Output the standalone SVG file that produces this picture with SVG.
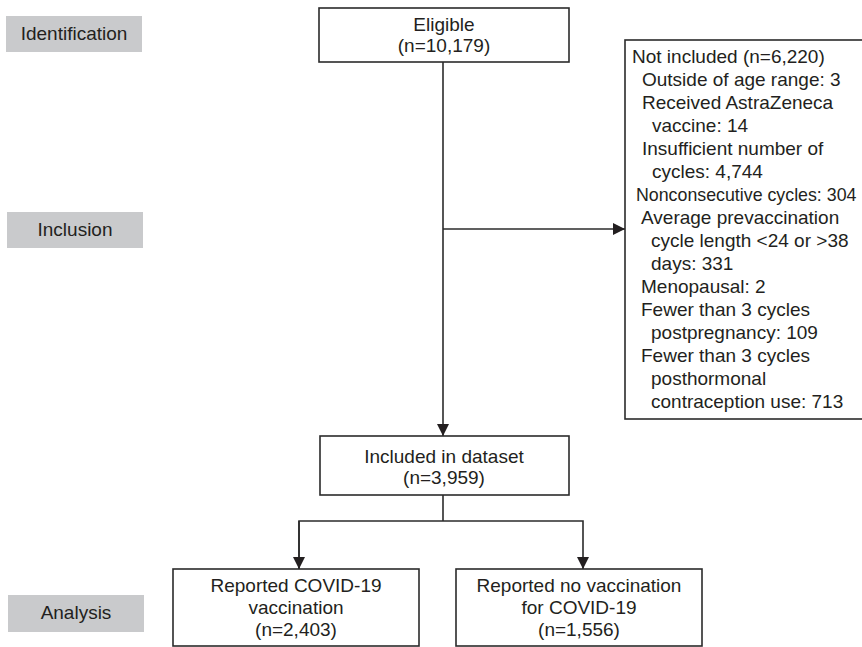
<svg xmlns="http://www.w3.org/2000/svg" width="862" height="647" viewBox="0 0 862 647">
<defs>
<style>
text{font-family:"Liberation Sans",Arial,sans-serif;font-size:19px;fill:#231f20}
.c{text-anchor:middle}
.box{fill:#fff;stroke:#2b2b2b;stroke-width:1.6}
.stage{fill:#c9cacc}
.ln{fill:none;stroke:#2b2b2b;stroke-width:1.6}
</style>
<marker id="ah" viewBox="0 0 12 12" refX="12" refY="6" markerWidth="12" markerHeight="12" markerUnits="userSpaceOnUse" orient="auto">
<path d="M0,0 L12,6 L0,12 Z" fill="#231f20"/>
</marker>
</defs>
<rect width="862" height="647" fill="#fff"/>

<g id="stage-identification">
<rect class="stage" x="6" y="16" width="136" height="36"/>
<text class="c" x="74" y="40">Identification</text>
</g>
<g id="stage-inclusion">
<rect class="stage" x="7" y="212" width="136" height="36"/>
<text class="c" x="75" y="236">Inclusion</text>
</g>
<g id="stage-analysis">
<rect class="stage" x="8" y="595" width="136" height="37"/>
<text class="c" x="76" y="619">Analysis</text>
</g>

<g id="connectors">
<line class="ln" x1="443" y1="62" x2="443" y2="436" marker-end="url(#ah)"/>
<line class="ln" x1="443" y1="229" x2="625" y2="229" marker-end="url(#ah)"/>
<polyline class="ln" points="443,495 443,521"/>
<polyline class="ln" points="299,569 299,521 583,521 583,569" marker-end="url(#ah)"/>
<line class="ln" x1="299" y1="521" x2="299" y2="569" marker-end="url(#ah)"/>
</g>

<g id="eligible">
<rect class="box" x="319" y="8" width="250" height="54"/>
<text class="c" x="444" y="31">Eligible</text>
<text class="c" x="444" y="52">(n=10,179)</text>
</g>

<g id="not-included">
<rect class="box" x="625" y="40" width="250" height="379"/>
<text x="632" y="63">Not included (n=6,220)</text>
<text x="642" y="86">Outside of age range: 3</text>
<text x="642" y="109">Received AstraZeneca</text>
<text x="652" y="132">vaccine: 14</text>
<text x="642" y="155">Insufficient number of</text>
<text x="652" y="178">cycles: 4,744</text>
<text x="636" y="201" style="font-size:17.8px">Nonconsecutive cycles: 304</text>
<text x="641" y="224">Average prevaccination</text>
<text x="651" y="247">cycle length &lt;24 or &gt;38</text>
<text x="651" y="270">days: 331</text>
<text x="641" y="293">Menopausal: 2</text>
<text x="641" y="316">Fewer than 3 cycles</text>
<text x="651" y="339">postpregnancy: 109</text>
<text x="641" y="362">Fewer than 3 cycles</text>
<text x="651" y="385">posthormonal</text>
<text x="651" y="408">contraception use: 713</text>
</g>

<g id="included">
<rect class="box" x="320" y="436" width="249" height="59"/>
<text class="c" x="444" y="463">Included in dataset</text>
<text class="c" x="444" y="484">(n=3,959)</text>
</g>

<g id="vaccinated">
<rect class="box" x="173" y="569" width="246" height="77"/>
<text class="c" x="296" y="592">Reported COVID-19</text>
<text class="c" x="296" y="614">vaccination</text>
<text class="c" x="296" y="636">(n=2,403)</text>
</g>

<g id="unvaccinated">
<rect class="box" x="456" y="569" width="246" height="77"/>
<text class="c" x="579" y="592">Reported no vaccination</text>
<text class="c" x="579" y="614">for COVID-19</text>
<text class="c" x="579" y="636">(n=1,556)</text>
</g>
</svg>
